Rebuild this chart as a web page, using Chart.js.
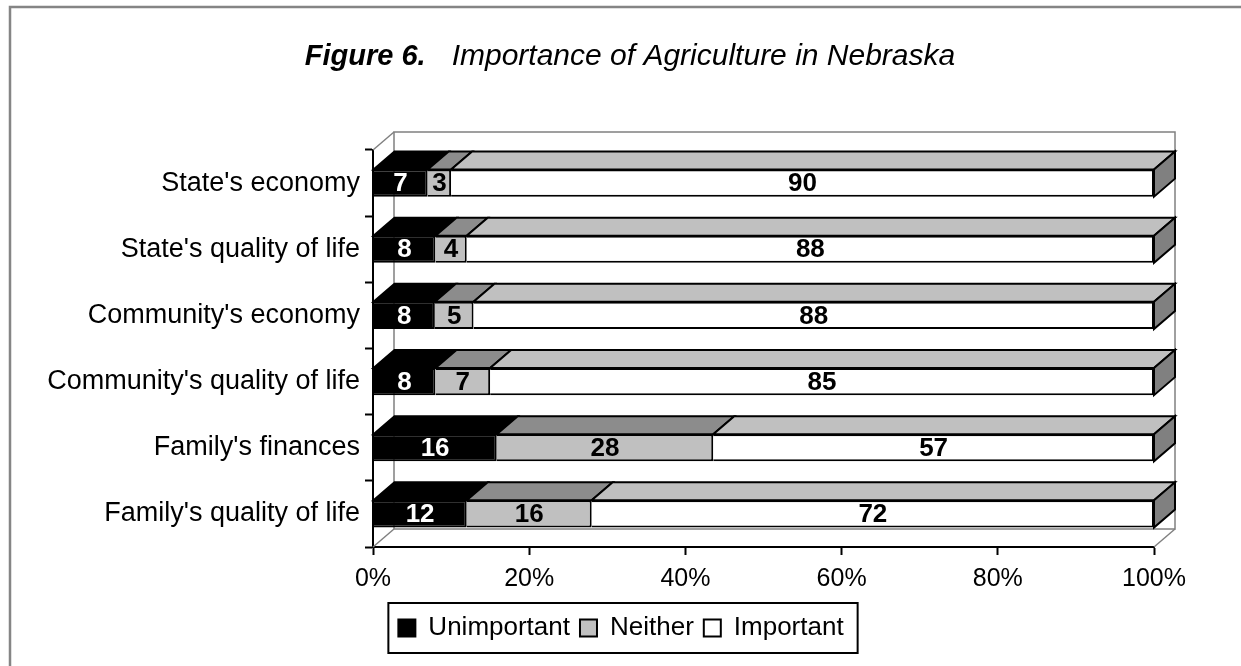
<!DOCTYPE html>
<html>
<head>
<meta charset="utf-8">
<title>Figure 6. Importance of Agriculture in Nebraska</title>
<script src="https://cdn.jsdelivr.net/npm/chart.js@4.4.1/dist/chart.umd.min.js"></script>
<style>
  body { margin: 0; background: #fff; }
  canvas { display: block; }
</style>
</head>
<body>
<canvas id="chart" width="1241" height="666"></canvas>
<script>
const categories = [
  "State's economy",
  "State's quality of life",
  "Community's economy",
  "Community's quality of life",
  "Family's finances",
  "Family's quality of life",
];
const unimportant = [7, 8, 8, 8, 16, 12];
const neither = [3, 4, 5, 7, 28, 16];
const important = [90, 88, 88, 85, 57, 72];
const xTicks = [0, 20, 40, 60, 80, 100];
const seriesNames = ["Unimportant", "Neither", "Important"];

const FONT = '"Liberation Sans", Arial, sans-serif';
const DX = 21; // 3d depth offset
const DY = 18;
const LEGEND_CENTER = 626;

// 100% stacked: each row is drawn as share of its own total
const rowTotals = categories.map(
  (_, i) => unimportant[i] + neither[i] + important[i]
);
const toShare = (arr) => arr.map((v, i) => (v / rowTotals[i]) * 100);

const frontColors = ["#000000", "#C0C0C0", "#FFFFFF"];
const topColors = ["#000000", "#8C8C8C", "#C0C0C0"];
const sideColor = "#808080";
const labelColors = ["#FFFFFF", "#000000", "#000000"];

function line(ctx, x1, y1, x2, y2) {
  ctx.beginPath();
  ctx.moveTo(x1, y1);
  ctx.lineTo(x2, y2);
  ctx.stroke();
}

// outer frame + title
const framePlugin = {
  id: "frame",
  beforeDraw(chart) {
    const ctx = chart.ctx;
    ctx.save();
    ctx.strokeStyle = "#858585";
    ctx.lineWidth = 2.5;
    ctx.strokeRect(10, 7, 1300, 700);

    const boldPart = "Figure 6.";
    const restPart = "Importance of Agriculture in Nebraska";
    ctx.fillStyle = "#000";
    ctx.textBaseline = "alphabetic";
    ctx.font = "italic bold 29px " + FONT;
    const w1 = ctx.measureText(boldPart).width;
    ctx.font = "italic 30px " + FONT;
    const w2 = ctx.measureText(restPart).width;
    const gap = 26;
    const x0 = 630 - (w1 + gap + w2) / 2;
    ctx.font = "italic bold 29px " + FONT;
    ctx.fillText(boldPart, x0, 65);
    ctx.font = "italic 30px " + FONT;
    ctx.fillText(restPart, x0 + w1 + gap, 65);
    ctx.restore();
  },
};

// back wall, floor and left wall edges
const wallsPlugin = {
  id: "walls",
  beforeDatasetsDraw(chart) {
    const { ctx, chartArea: a } = chart;
    ctx.save();
    ctx.strokeStyle = "#808080";
    ctx.lineWidth = 1.5;
    ctx.strokeRect(a.left + DX, a.top - DY, a.right - a.left, a.bottom - a.top);
    line(ctx, a.left, a.top, a.left + DX, a.top - DY);
    line(ctx, a.left, a.bottom, a.left + DX, a.bottom - DY);
    line(ctx, a.right, a.bottom, a.right + DX, a.bottom - DY);
    ctx.restore();
  },
};

// top/side faces of the bars and the value labels
const barDepthPlugin = {
  id: "barDepth",
  afterDatasetsDraw(chart) {
    const ctx = chart.ctx;
    ctx.save();
    ctx.lineWidth = 2;
    ctx.strokeStyle = "#000";
    const count = chart.data.datasets.length;
    chart.data.datasets.forEach((ds, di) => {
      const meta = chart.getDatasetMeta(di);
      meta.data.forEach((bar) => {
        const x0 = bar.base;
        const x1 = bar.x;
        const yTop = bar.y - bar.height / 2;
        const yBot = bar.y + bar.height / 2;
        ctx.fillStyle = topColors[di];
        ctx.beginPath();
        ctx.moveTo(x0, yTop);
        ctx.lineTo(x0 + DX, yTop - DY);
        ctx.lineTo(x1 + DX, yTop - DY);
        ctx.lineTo(x1, yTop);
        ctx.closePath();
        ctx.fill();
        ctx.stroke();
        if (di === count - 1) {
          ctx.fillStyle = sideColor;
          ctx.beginPath();
          ctx.moveTo(x1, yTop);
          ctx.lineTo(x1 + DX, yTop - DY);
          ctx.lineTo(x1 + DX, yBot - DY);
          ctx.lineTo(x1, yBot);
          ctx.closePath();
          ctx.fill();
          ctx.stroke();
        }
      });
    });

    ctx.font = "bold 26px " + FONT;
    ctx.textAlign = "center";
    ctx.textBaseline = "middle";
    chart.data.datasets.forEach((ds, di) => {
      const meta = chart.getDatasetMeta(di);
      meta.data.forEach((bar, i) => {
        const c = bar.getCenterPoint();
        ctx.fillStyle = labelColors[di];
        ctx.fillText(String(ds.counts[i]), c.x, c.y + 1);
      });
    });
    ctx.restore();
  },
};

// legend is centred on the page, not on the plot, and gets a frame
const legendBoxPlugin = {
  id: "legendBox",
  afterLayout(chart) {
    const lg = chart.legend;
    const shift = LEGEND_CENTER - (lg.left + lg.right) / 2 - 5;
    lg.left += shift;
    lg.right += shift;
  },
  afterDraw(chart) {
    const boxes = chart.legend.legendHitBoxes;
    if (!boxes || !boxes.length) return;
    const left = Math.min(...boxes.map((b) => b.left));
    const right = Math.max(...boxes.map((b) => b.left + b.width));
    const top = boxes[0].top;
    const ctx = chart.ctx;
    ctx.save();
    ctx.strokeStyle = "#000";
    ctx.lineWidth = 2;
    ctx.strokeRect(left - 10, top - 12, right - left + 24, 50);
    ctx.restore();
  },
};

Chart.defaults.font.family = FONT;
Chart.defaults.color = "#000";

const seriesValues = [unimportant, neither, important];

new Chart(document.getElementById("chart").getContext("2d"), {
  type: "bar",
  data: {
    labels: categories,
    datasets: seriesValues.map((vals, di) => ({
      label: seriesNames[di],
      data: toShare(vals),
      counts: vals,
      backgroundColor: frontColors[di],
      borderColor: "#000",
      borderWidth: 2,
      barPercentage: 0.41,
      categoryPercentage: 1.0,
    })),
  },
  options: {
    indexAxis: "y",
    responsive: false,
    animation: false,
    devicePixelRatio: 1,
    layout: {
      padding: { top: 150, right: 87, bottom: 15, left: 0 },
    },
    scales: {
      x: {
        stacked: true,
        min: 0,
        max: 100,
        afterBuildTicks: (scale) => {
          scale.ticks = xTicks.map((v) => ({ value: v }));
        },
        afterFit: (scale) => {
          scale.height = 58;
        },
        ticks: {
          font: { size: 25 },
          padding: 9,
          maxRotation: 0,
          callback: (v) => v + "%",
        },
        grid: {
          drawOnChartArea: false,
          drawTicks: true,
          tickLength: 8,
          tickColor: "#000",
          tickWidth: 2,
        },
        border: { color: "#000", width: 2 },
      },
      y: {
        stacked: true,
        afterFit: (scale) => {
          scale.width = 373;
        },
        ticks: {
          font: { size: 27 },
          padding: 5,
        },
        grid: {
          drawOnChartArea: false,
          drawTicks: true,
          tickLength: 8,
          tickColor: "#000",
          tickWidth: 2,
        },
        border: { color: "#000", width: 2 },
      },
    },
    plugins: {
      title: { display: false },
      tooltip: { enabled: false },
      legend: {
        position: "bottom",
        labels: {
          boxWidth: 17,
          boxHeight: 17,
          padding: 10,
          font: { size: 26 },
          color: "#000",
        },
      },
    },
  },
  plugins: [framePlugin, wallsPlugin, barDepthPlugin, legendBoxPlugin],
});
</script>
</body>
</html>
